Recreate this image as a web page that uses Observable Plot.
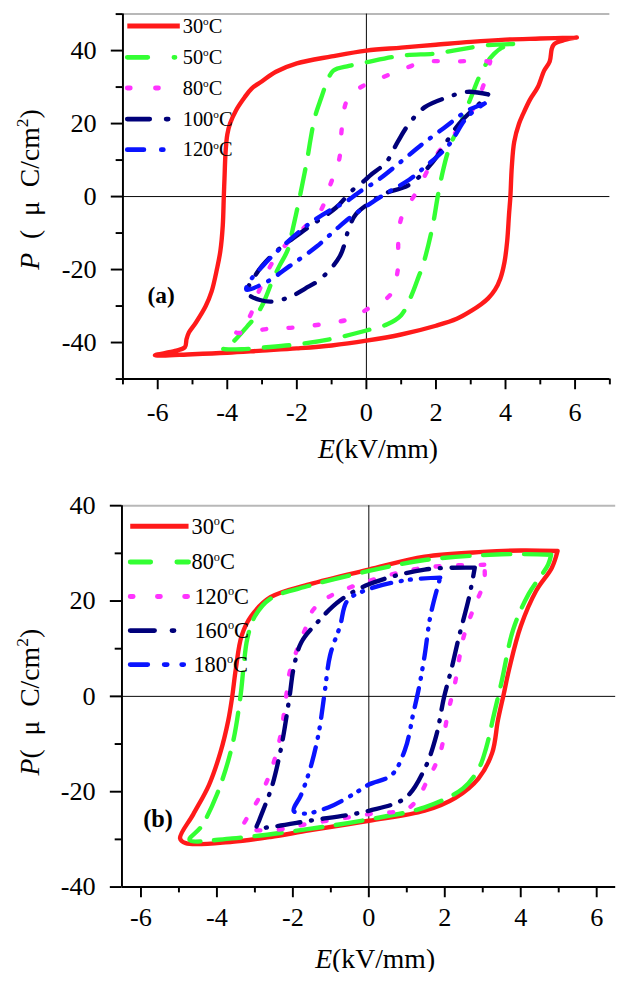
<!DOCTYPE html>
<html>
<head>
<meta charset="utf-8">
<script src="https://cdn.jsdelivr.net/npm/d3@7"></script>
<script src="https://cdn.jsdelivr.net/npm/@observablehq/plot@0.6"></script>
<style>
  html, body { margin: 0; padding: 0; background: #fff; }
  .panel { width: 622px; overflow: hidden; position: relative; }
  svg { display: block; }
</style>
</head>
<body>
<div class="panel" id="pa"></div>
<div class="panel" id="pb"></div>
<script>
// ---------- Panel (a) data: [E (kV/mm), P (µC/cm²)] around each hysteresis loop ----------
const aLabels = ["30", "50", "80", "100", "120"];
const aRed30 = [
  [6.05,43.6],[5.0,43.3],[4.0,43.0],[3.0,42.4],[2.0,41.6],[1.0,40.8],[0,40.0],[-1,38.4],[-2,36.5],[-2.6,34.2],
  [-3.0,31.6],[-3.3,29.6],[-3.5,27.2],[-3.75,23.6],[-3.92,20],[-4.0,17],[-4.05,12],[-4.08,5],[-4.1,0],[-4.13,-8],
  [-4.2,-15],[-4.3,-20],[-4.45,-26],[-4.62,-30],[-4.9,-34.5],[-5.1,-37.2],[-5.17,-39],[-5.22,-41.3],[-5.5,-42.3],[-6.08,-43.5],
  [-5.0,-43.2],[-4,-42.8],[-3,-42.2],[-2,-41.6],[-1,-40.8],[0,-39.5],[1,-37.8],[2,-35.4],[2.6,-33.5],[3.0,-31.4],
  [3.3,-29.5],[3.5,-27.9],[3.7,-25.5],[3.85,-22.5],[3.97,-18],[4.05,-12],[4.1,-5],[4.14,0],[4.18,8],[4.25,15],
  [4.39,20],[4.5,22.5],[4.7,26.5],[4.93,30],[5.11,34.5],[5.27,37],[5.33,40.5],[5.4,41.8],[5.7,42.9],[6.05,43.6]
];
const aGreen50 = [
  [4.22,41.8],[3.5,41.5],[2.5,40],[2,39.2],[1,38.6],[0,36.8],[-0.5,35.8],[-0.95,34.5],[-1.15,31],[-1.3,27],
  [-1.48,21.8],[-1.6,16],[-1.7,10.3],[-1.85,3],[-1.98,-3],[-2.12,-9],[-2.26,-14.6],[-2.5,-19],[-2.7,-23],[-2.98,-29.5],
  [-3.2,-33],[-3.42,-35.5],[-3.87,-40.1],[-4.14,-41.6],
  [-3.5,-41.8],[-3,-41.4],[-2,-40.5],[-1,-39],[0,-36.7],[0.6,-35],[1.0,-32.5],[1.3,-27],[1.5,-22],[1.62,-19],
  [1.9,-8.3],[2.06,0.5],[2.2,7],[2.34,12.1],[2.5,16],[2.67,19.2],[3.0,27],[3.23,32.5],[3.45,36.5],[3.67,39.1],
  [3.9,40.8],[4.22,41.8]
];
const aMagenta80 = [
  [3.56,37],[3.2,37.2],[2.5,37],[1.68,36.9],[0.9,34.3],[0.3,32],[-0.1,30.3],[-0.45,28],[-0.6,25.4],[-0.71,18.4],
  [-0.78,10.3],[-1.04,3.2],[-1.32,-3.9],[-1.87,-9.2],[-2.3,-13],[-2.7,-18],[-3.0,-24],[-3.2,-28.5],[-3.31,-32],[-3.5,-35],
  [-3.75,-37.2],
  [-3.4,-37.2],[-2.87,-36.3],[-2.1,-35.9],[-1.0,-34.6],[-0.4,-33.3],[0.05,-30.7],[0.68,-27],[0.9,-20.3],[0.92,-12],
  [1.01,-5.7],[1.45,1.4],[2.0,11.2],[2.6,18],[3.0,23],[3.34,29.8],[3.56,37]
];
const aNavy100 = [
  [3.5,28],[2.9,28.7],[2.33,27.2],[1.68,24.5],[1.23,20],[0.9,15],[0.57,9.4],[0.12,5.9],[-0.04,4.5],[-0.44,1.4],
  [-0.87,-3],[-1.65,-8.3],[-2.54,-14.6],[-3.0,-19],[-3.31,-23.4],[-3.45,-26],
  [-3.31,-27.4],[-2.76,-28.8],[-2.2,-27.5],[-1.76,-25.2],[-1.32,-22.6],[-0.76,-16.3],[-0.49,-8.3],[-0.3,-4.8],[0.1,-1.7],
  [0.57,1],[1.23,3.2],[1.9,9.4],[2.67,20],[3.34,26.3],[3.5,28]
];
const aBlue120 = [
  [3.4,25.5],[2.9,23.5],[2.23,18.8],[1.56,14],[1.0,9.6],[0.33,4.5],[-0.18,1.4],[-0.6,-1.5],[-1.0,-3.5],[-1.65,-7.5],
  [-2.42,-13.7],[-2.98,-19],[-3.37,-23.4],[-3.45,-25.5],
  [-2.87,-23.4],[-2.2,-19],[-1.43,-13.7],[-0.85,-8.8],[-0.46,-5.7],[0.1,-2],[0.66,1.4],[1.23,4.6],[1.68,8.1],[2.34,13.8],
  [2.9,21.8],[3.4,25.5]
];

// ---------- Panel (b) data ----------
const bLabels = ["30", "80", "120", "160", "180"];
const bRed30 = [
  [4.97,30.5],[4.0,30.6],[3.0,30.3],[1.47,29.3],[0,26.6],[-1.57,23.5],[-2.59,20.8],[-3.1,16.8],[-3.35,12.7],[-3.5,5.9],
  [-3.6,-0.2],[-3.7,-5],[-3.91,-11.8],[-4.21,-18.6],[-4.62,-24.7],[-4.97,-29.8],
  [-4.82,-30.8],[-3.6,-30.5],[-2.59,-29.5],[-1.57,-28.1],[0,-26.1],[1.47,-24],[2.28,-21.3],[2.89,-17.2],[3.25,-11.8],
  [3.4,-5],[3.55,0.4],[3.7,5.9],[4.0,14.7],[4.41,22.2],[4.82,27],[4.97,30.5]
];
const bGreen80 = [
  [4.8,29.7],[3.5,29.8],[1.47,28.6],[0,26.3],[-1.57,23.2],[-2.59,20.5],[-3.0,16.8],[-3.2,12.1],[-3.3,6],[-3.38,0],
  [-3.6,-10.4],[-4.0,-20.6],[-4.42,-27.4],[-4.72,-30.1],
  [-3.6,-29.8],[-1.57,-27.8],[0,-25.8],[1.47,-23.3],[2.48,-19.3],[2.89,-15.2],[3.09,-10.8],[3.3,-3.6],[3.5,3.2],
  [3.8,14],[4.21,21.5],[4.72,27.6],[4.8,29.7]
];
const bMagenta120 = [
  [3.04,27.6],[1.47,27],[0,24.2],[-1.07,20.8],[-1.47,18.1],[-1.68,14],[-1.88,10],[-2.08,5.2],[-2.18,-0.2],[-2.33,-8.4],
  [-2.59,-15.9],[-2.89,-21.3],[-3.2,-25.4],[-3.3,-27.4],
  [-2.59,-28.1],[-1.57,-26.7],[0,-24.7],[1.07,-23.3],[1.57,-17.2],[1.88,-11.8],[2.08,-3.6],[2.28,3.2],[2.48,12],
  [2.74,18.1],[3.04,24.2],[3.04,27.6]
];
const bNavy160 = [
  [2.79,27],[1.47,26.6],[0,23.5],[-0.76,20.1],[-1.37,15.4],[-1.78,11.3],[-1.98,5.9],[-2.09,-0.2],[-2.3,-10.4],[-2.54,-18.6],
  [-2.69,-22],[-2.89,-26.1],[-2.95,-27.6],
  [-2.59,-27.4],[-1.57,-26.1],[0,-24],[0.96,-21.3],[1.47,-15.2],[1.77,-8.4],[1.98,-0.2],[2.18,5.9],[2.38,12.7],
  [2.64,20.8],[2.79,27]
];
const bBlue180 = [
  [1.88,24.9],[1.0,24.4],[0,22.5],[-0.56,20.1],[-0.76,14.7],[-1.02,8.6],[-1.17,0.4],[-1.32,-7.7],[-1.52,-14.5],[-1.78,-20.6],
  [-1.98,-24],
  [-1.7,-24.6],[-1.07,-23.3],[-0.4,-20.5],[0,-18.5],[0.6,-16.5],[0.96,-11],[1.17,-3.6],[1.32,1.8],[1.47,8.6],[1.62,16.8],
  [1.83,23.5],[1.88,24.9]
];

// ---------- Axis tick values ----------
const xMajorTicks = [-6, -4, -2, 0, 2, 4, 6];
const aXMinorTicks = [-7, -5, -3, -1, 1, 3, 5, 7];
const bXMinorTicks = [-5, -3, -1, 1, 3, 5];
const yMajorTicks = [-40, -20, 0, 20, 40];
const aYMinorTicks = [-50, -30, -10, 10, 30, 50];
const bYMinorTicks = [-30, -10, 10, 30];
const panelTags = [{E: -5.9, P: -27, t: "(a)"}, {E: -5.55, P: -25.8, t: "(b)"}];

// ---------- styles ----------
const FONT = '"Liberation Serif", "Times New Roman", serif';
const C = {red: "#ff1a1a", green: "#33ff33", magenta: "#ff33ff", navy: "#00007a", blue: "#0a14ff"};

function series(data, color, dash, width = 4.5) {
  return Plot.line(data, {
    x: d => d[0], y: d => d[1], stroke: color, strokeWidth: width,
    strokeDasharray: dash, strokeLinecap: "round", strokeLinejoin: "round", curve: "catmull-rom"
  });
}

function axes(xMinor, yMinor, xPad) {
  const common = {stroke: "black", fill: "black", label: null, fontSize: 27, fontFamily: FONT};
  return [
    Plot.axisX(xMajorTicks, {...common, tickSize: 11, tickPadding: xPad, strokeWidth: 2, tickFormat: d => String(d)}),
    Plot.axisX(xMinor, {...common, fill: "none", tickSize: 6, strokeWidth: 2}),
    Plot.axisY(yMajorTicks, {...common, tickSize: 12, tickPadding: 15, strokeWidth: 2, tickFormat: d => String(d)}),
    Plot.axisY(yMinor, {...common, fill: "none", tickSize: 7, strokeWidth: 2})
  ];
}

// ---------- Panel (a) ----------
const chartA = Plot.plot({
  width: 640, height: 480,
  marginLeft: 126, marginRight: 13, marginTop: 14, marginBottom: 90.5,
  x: {domain: [-7, 7], label: null},
  y: {domain: [-50, 50], label: null},
  style: {fontFamily: FONT, fontSize: "27px", color: "black", background: "white", overflow: "visible"},
  marks: [
    Plot.ruleY([50], {stroke: "#b8b8b8", strokeWidth: 2}),
    Plot.ruleX([0], {stroke: "black", strokeWidth: 1}),
    Plot.ruleY([0], {stroke: "black", strokeWidth: 1}),
    series(aRed30, C.red, null, 4.5),
    series(aGreen50, C.green, "26,16"),
    series(aMagenta80, C.magenta, "4,23"),
    series(aNavy100, C.navy, "22,13,1,13"),
    series(aBlue120, C.blue, "16,11,1,11"),
    Plot.text([panelTags[0]], {x: "E", y: "P", text: "t", fontWeight: "bold", fontSize: 24, fontFamily: FONT}),
    ...axes(aXMinorTicks, aYMinorTicks, 13),
    Plot.ruleX([-7], {stroke: "black", strokeWidth: 2}),
    Plot.ruleY([-50], {stroke: "black", strokeWidth: 2})
  ]
});

// ---------- Panel (b) ----------
const chartB = Plot.plot({
  width: 640, height: 520,
  marginLeft: 125, marginRight: 7, marginTop: 39.3, marginBottom: 88.3,
  x: {domain: [-6.5, 6.5], label: null},
  y: {domain: [-40, 40], label: null},
  style: {fontFamily: FONT, fontSize: "27px", color: "black", background: "white", overflow: "visible"},
  marks: [
    Plot.ruleY([40], {stroke: "#b8b8b8", strokeWidth: 2}),
    Plot.ruleX([0], {stroke: "black", strokeWidth: 1}),
    Plot.ruleY([0], {stroke: "black", strokeWidth: 1}),
    series(bRed30, C.red, null, 4.5),
    series(bGreen80, C.green, "28,14"),
    series(bMagenta120, C.magenta, "4,19"),
    series(bNavy160, C.navy, "24,11,1,11"),
    series(bBlue180, C.blue, "20,10,1,9,1,10"),
    Plot.text([panelTags[1]], {x: "E", y: "P", text: "t", fontWeight: "bold", fontSize: 25, fontFamily: FONT}),
    ...axes(bXMinorTicks, bYMinorTicks, 10),
    Plot.ruleX([-6.5], {stroke: "black", strokeWidth: 2}),
    Plot.ruleY([-40], {stroke: "black", strokeWidth: 2})
  ]
});

document.getElementById("pa").appendChild(chartA);
document.getElementById("pb").appendChild(chartB);

// ---------- legends and axis titles ----------
function legend(svgNode, cfg) {
  const svg = d3.select(svgNode);
  const g = svg.append("g").attr("font-family", FONT).attr("font-size", cfg.fontSize).attr("text-anchor", "start");
  cfg.items.forEach((it, i) => {
    const y = cfg.rows[i];
    g.append("line").attr("x1", cfg.x1).attr("x2", cfg.x2).attr("y1", y).attr("y2", y)
      .attr("stroke", it.color).attr("stroke-width", 5).attr("stroke-linecap", it.dash ? "round" : "butt")
      .attr("stroke-dasharray", it.dash);
    const t = g.append("text").attr("x", cfg.tx[i]).attr("y", y + cfg.fontSize * 0.33).attr("fill", "black");
    t.append("tspan").text(it.label);
    t.append("tspan").attr("dy", -cfg.fontSize * 0.38).attr("font-size", cfg.fontSize * 0.55).text("o");
    t.append("tspan").attr("dy", cfg.fontSize * 0.38).text("C");
  });
}

legend(chartA, {
  x1: 131, x2: 185, tx: [188, 188, 188, 188, 188], fontSize: 21, rows: [26.7, 59, 90.5, 122.5, 154],
  items: [
    {label: aLabels[0], color: C.red, dash: null},
    {label: aLabels[1], color: C.green, dash: "21,27,1,30"},
    {label: aLabels[2], color: C.magenta, dash: "3,26"},
    {label: aLabels[3], color: C.navy, dash: "23,17,2,40"},
    {label: aLabels[4], color: C.blue, dash: "17,18,2,40"}
  ]
});
legend(chartB, {
  x1: 134, x2: 194, tx: [197, 197, 200, 200, 199], fontSize: 23, rows: [61, 97.7, 133.3, 168.3, 203.3],
  items: [
    {label: bLabels[0], color: C.red, dash: null},
    {label: bLabels[1], color: C.green, dash: "21,27"},
    {label: bLabels[2], color: C.magenta, dash: "3,25"},
    {label: bLabels[3], color: C.navy, dash: "25,18,2,40"},
    {label: bLabels[4], color: C.blue, dash: "18,17,3,15,2,40"}
  ]
});

function titles(svgNode, xt, yt, yText) {
  const svg = d3.select(svgNode);
  const tx = svg.append("text").attr("x", xt[0]).attr("y", xt[1]).attr("text-anchor", "middle")
    .attr("font-family", FONT).attr("font-size", 28.5).attr("fill", "black");
  tx.append("tspan").attr("font-style", "italic").text("E");
  tx.append("tspan").text("(kV/mm)");
  const ty = svg.append("text").attr("transform", `translate(${yt[0]},${yt[1]}) rotate(-90)`)
    .attr("text-anchor", "middle").attr("font-family", FONT).attr("font-size", 28.5).attr("fill", "black");
  ty.append("tspan").attr("font-style", "italic").text("P");
  ty.append("tspan").text(yText);
  ty.append("tspan").attr("dy", -11).attr("font-size", 18).text("2");
  ty.append("tspan").attr("dy", 11).text(")");
}
titles(chartA, [389, 471], [40, 195], "\u2002(\u2002\u03bc\u2002C/cm");
titles(chartB, [386, 515], [40, 242], "(\u2002\u03bc\u2002C/cm");
</script>
</body>
</html>
